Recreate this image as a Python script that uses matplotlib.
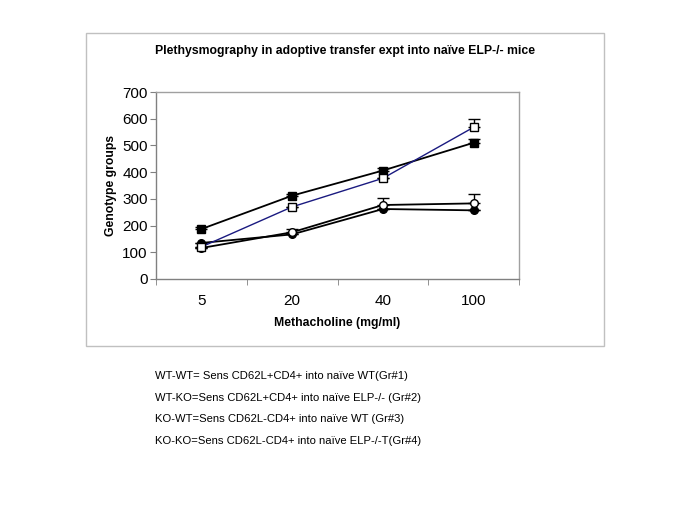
import matplotlib
matplotlib.use("Agg")
import matplotlib.pyplot as plt
from matplotlib.patches import Rectangle
from matplotlib.ticker import FixedLocator, NullFormatter

plt.rcParams['font.family'] = ['Liberation Sans', 'DejaVu Sans']

categories = ["5", "20", "40", "100"]
filled_square = [187, 312, 406, 510]
filled_square_err = [8, 8, 10, 13]
open_square = [120, 270, 377, 568]
open_square_err = [0, 0, 0, 30]
open_circle = [116, 175, 277, 283]
open_circle_err = [0, 12, 25, 34]
filled_circle = [135, 167, 262, 257]
filled_circle_err = [0, 0, 0, 0]
yticks = [0, 100, 200, 300, 400, 500, 600, 700]
legend_lines = [
    "WT-WT= Sens CD62L+CD4+ into naïve WT(Gr#1)",
    "WT-KO=Sens CD62L+CD4+ into naïve ELP-/- (Gr#2)",
    "KO-WT=Sens CD62L-CD4+ into naïve WT (Gr#3)",
    "KO-KO=Sens CD62L-CD4+ into naïve ELP-/-T(Gr#4)",
]

W, H = 685, 513
fig = plt.figure(figsize=(W / 100, H / 100), dpi=100)
fig.patch.set_facecolor("white")

# outer chart frame
fig.patches.append(Rectangle((86 / W, 1 - 346 / H), (604 - 86) / W, (346 - 33) / H,
                             transform=fig.transFigure, fill=False,
                             edgecolor="#c0c0c0", linewidth=1.0))

ax = fig.add_axes([156 / W, 1 - 279 / H, (519 - 156) / W, (279 - 92) / H])
x = list(range(len(categories)))

def series(vals, errs, marker, mfc, color, lw):
    ax.errorbar(x, vals, yerr=[[0] * len(errs), errs], color=color, lw=lw,
                marker=marker, markersize=5.5, markerfacecolor=mfc,
                markeredgecolor="black", markeredgewidth=1.0,
                ecolor="black", elinewidth=1.0, capsize=4, capthick=1.0,
                zorder=3)

series(filled_circle, filled_circle_err, "o", "black", "black", 1.3)
series(open_circle, open_circle_err, "o", "white", "black", 1.3)
series(filled_square, filled_square_err, "s", "black", "black", 1.3)
series(open_square, open_square_err, "s", "white", "#1a1a80", 1.0)

ax.set_xlim(-0.5, len(categories) - 0.5)
ax.set_ylim(0, 700)
ax.set_yticks(yticks)
ax.set_yticklabels([str(v) for v in yticks], fontsize=11)
ax.set_xticks(x)
ax.set_xticklabels(categories, fontsize=11)
ax.tick_params(axis="x", which="major", length=0, pad=11)
ax.xaxis.set_minor_locator(FixedLocator([i - 0.5 for i in range(len(categories) + 1)]))
ax.xaxis.set_minor_formatter(NullFormatter())
ax.tick_params(axis="x", which="minor", length=4, direction="out", color="#808080")
ax.tick_params(axis="y", length=4, direction="out", color="#808080", pad=2)
for side in ["top", "right"]:
    ax.spines[side].set_color("#a0a0a0")
for side in ["left", "bottom"]:
    ax.spines[side].set_color("#808080")
for s in ax.spines.values():
    s.set_linewidth(1.0)

ax.set_xlabel("Methacholine (mg/ml)", fontsize=8.8, fontweight="bold", labelpad=6)
ax.set_ylabel("Genotype groups", fontsize=8.7, fontweight="bold", labelpad=4)

fig.text(345 / W, 1 - 51 / H, "Plethysmography in adoptive transfer expt into naïve ELP-/- mice",
         ha="center", va="center", fontsize=8.8, fontweight="bold")

for i, line in enumerate(legend_lines):
    fig.text(155 / W, 1 - (376 + i * 21.7) / H, line, ha="left", va="center", fontsize=8.1)

fig.savefig("out.png", dpi=100, facecolor="white")
